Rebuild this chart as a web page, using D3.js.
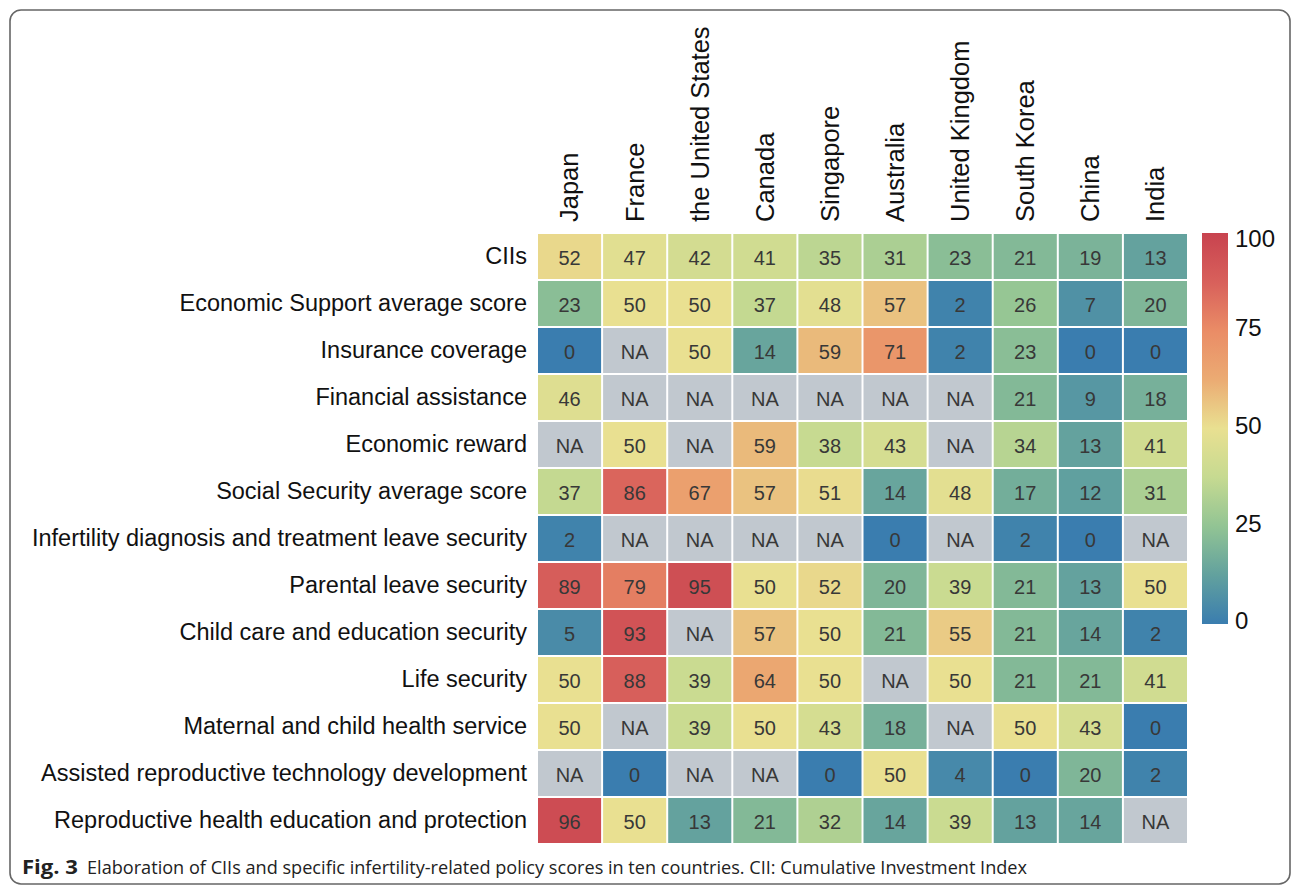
<!DOCTYPE html>
<meta charset="utf-8">
<script src="https://cdn.jsdelivr.net/npm/d3@7"></script>
<style>
body { margin: 0; background: #fff; }
text { font-family: "Liberation Sans", Arial, sans-serif; }
.rowlab { font-size: 23.5px; fill: #111; }
.collab { font-size: 25.5px; fill: #111; }
.cellval { font-size: 20px; fill: #383838; }
.tick text { font-family: "Liberation Sans", Arial, sans-serif; font-size: 24px; fill: #111; }
.caption { font-family: "Open Sans", sans-serif; font-size: 19px; fill: #222; }
</style>
<body>
<script>

var countries = ["Japan", "France", "the United States", "Canada", "Singapore",
                 "Australia", "United Kingdom", "South Korea", "China", "India"];

var policies = ["CIIs",
                "Economic Support average score",
                "Insurance coverage",
                "Financial assistance",
                "Economic reward",
                "Social Security average score",
                "Infertility diagnosis and treatment leave security",
                "Parental leave security",
                "Child care and education security",
                "Life security",
                "Maternal and child health service",
                "Assisted reproductive technology development",
                "Reproductive health education and protection"];

// one array per row, same order as countries; null = NA
var cii          = [52, 47, 42, 41, 35, 31, 23, 21, 19, 13];
var econAvg      = [23, 50, 50, 37, 48, 57, 2, 26, 7, 20];
var insurance    = [0, null, 50, 14, 59, 71, 2, 23, 0, 0];
var financial    = [46, null, null, null, null, null, null, 21, 9, 18];
var reward       = [null, 50, null, 59, 38, 43, null, 34, 13, 41];
var socialAvg    = [37, 86, 67, 57, 51, 14, 48, 17, 12, 31];
var leaveInfert  = [2, null, null, null, null, 0, null, 2, 0, null];
var parental     = [89, 79, 95, 50, 52, 20, 39, 21, 13, 50];
var childcare    = [5, 93, null, 57, 50, 21, 55, 21, 14, 2];
var life         = [50, 88, 39, 64, 50, null, 50, 21, 21, 41];
var maternal     = [50, null, 39, 50, 43, 18, null, 50, 43, 0];
var art          = [null, 0, null, null, 0, 50, 4, 0, 20, 2];
var reproEdu     = [96, 50, 13, 21, 32, 14, 39, 13, 14, null];

var rows = [cii, econAvg, insurance, financial, reward, socialAvg, leaveInfert,
            parental, childcare, life, maternal, art, reproEdu];

var legendTicks = [0, 25, 50, 75, 100];

var width = 1293, height = 885;

var svg = d3.select("body").append("svg")
    .attr("width", width)
    .attr("height", height);

// figure frame
svg.append("rect")
    .attr("x", 10).attr("y", 10)
    .attr("width", 1280).attr("height", 874)
    .attr("rx", 11)
    .attr("fill", "none")
    .attr("stroke", "#666")
    .attr("stroke-width", 1.6);

var x = d3.scaleBand().domain(countries).range([537, 1188]);
var y = d3.scaleBand().domain(policies).range([233, 844]);

var stops = [0, 12.5, 25, 37.5, 50, 62.5, 75, 87.5, 100];
var stopColors = ["#3a7daf", "#62a19e", "#92c494", "#c6da91", "#e9e091",
                  "#ebab73", "#ea8c66", "#d8605b", "#c8434f"];
var color = d3.scaleLinear().domain(stops).range(stopColors).clamp(true);
var naColor = "#c1c8cf";

var cells = [];
rows.forEach(function(r, i) {
  r.forEach(function(v, j) {
    cells.push({policy: policies[i], country: countries[j], value: v});
  });
});

var cell = svg.append("g").selectAll("g")
    .data(cells)
    .enter().append("g")
    .attr("transform", function(d) {
      return "translate(" + x(d.country) + "," + y(d.policy) + ")";
    });

cell.append("rect")
    .attr("x", 1).attr("y", 1)
    .attr("width", x.bandwidth() - 2)
    .attr("height", y.bandwidth() - 2)
    .attr("fill", function(d) { return d.value === null ? naColor : color(d.value); });

cell.append("text")
    .attr("class", "cellval")
    .attr("x", x.bandwidth() / 2)
    .attr("y", y.bandwidth() / 2 + 1)
    .attr("dy", "0.35em")
    .attr("text-anchor", "middle")
    .text(function(d) { return d.value === null ? "NA" : d.value; });

// row labels
svg.append("g").selectAll("text")
    .data(policies)
    .enter().append("text")
    .attr("class", "rowlab")
    .attr("x", 527)
    .attr("y", function(d) { return y(d) + y.bandwidth() / 2 - 1; })
    .attr("dy", "0.35em")
    .attr("text-anchor", "end")
    .text(function(d) { return d; });

// column labels, rotated
svg.append("g").selectAll("text")
    .data(countries)
    .enter().append("text")
    .attr("class", "collab")
    .attr("transform", function(d) {
      return "translate(" + (x(d) + x.bandwidth() / 2) + ",222) rotate(-90)";
    })
    .attr("dy", "0.35em")
    .attr("text-anchor", "start")
    .text(function(d) { return d; });

// colour bar
var barX = 1202, barW = 26;
var cy = d3.scaleLinear().domain([0, 100]).range([624, 233]);

var defs = svg.append("defs");
var grad = defs.append("linearGradient")
    .attr("id", "cbar")
    .attr("x1", 0).attr("y1", 1).attr("x2", 0).attr("y2", 0);
grad.selectAll("stop")
    .data(stops)
    .enter().append("stop")
    .attr("offset", function(d) { return d + "%"; })
    .attr("stop-color", function(d) { return color(d); });

svg.append("rect")
    .attr("x", barX).attr("y", cy(100))
    .attr("width", barW).attr("height", cy(0) - cy(100))
    .attr("fill", "url(#cbar)");

var axis = svg.append("g")
    .attr("transform", "translate(" + (barX + barW) + ",0)")
    .call(d3.axisRight(cy).tickValues(legendTicks).tickSize(0).tickPadding(7));
axis.select(".domain").remove();
axis.selectAll(".tick text").attr("dy", function(d) { return d === 100 ? "0.55em" : "0.2em"; });

// caption
svg.append("text")
    .attr("class", "caption")
    .attr("x", 22).attr("y", 874)
    .attr("font-weight", "bold")
    .attr("textLength", 56)
    .attr("lengthAdjust", "spacingAndGlyphs")
    .text("Fig. 3");
svg.append("text")
    .attr("class", "caption")
    .attr("x", 87).attr("y", 874)
    .attr("textLength", 940)
    .attr("lengthAdjust", "spacingAndGlyphs")
    .text("Elaboration of CIIs and specific infertility-related policy scores in ten countries. CII: Cumulative Investment Index");

</script>
</body>
